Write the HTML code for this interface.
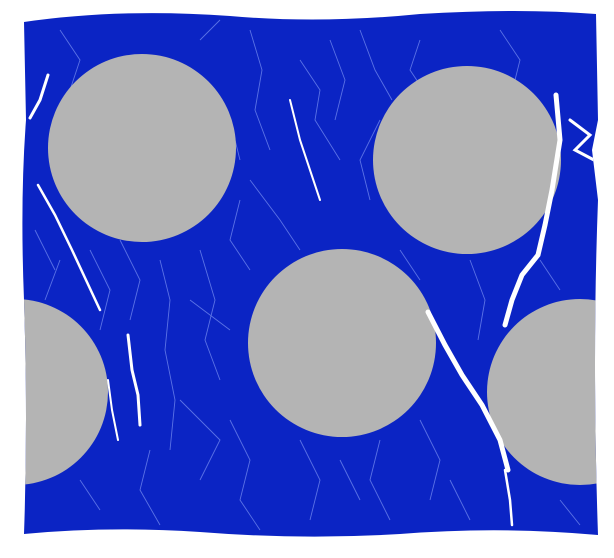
<!DOCTYPE html>
<html>
<head>
<meta charset="utf-8">
<style>
  html,body{margin:0;padding:0;background:#fff;}
  svg{display:block;}
</style>
</head>
<body>
<svg id="scene" width="614" height="558" viewBox="0 0 614 558" xmlns="http://www.w3.org/2000/svg">
  <defs>
    <clipPath id="body-clip">
      <path d="M24,22 Q120,8 230,16 Q320,24 420,14 Q520,8 596,14 L598,120 L592,150 L598,200 Q592,360 598,535 Q500,526 400,534 Q300,540 200,532 Q110,526 24,534 Q28,420 24,300 Q20,200 26,120 Z"/>
    </clipPath>
  </defs>
  <path fill="#0b24c4" d="M24,22 Q120,8 230,16 Q320,24 420,14 Q520,8 596,14 L598,120 L592,150 L598,200 Q592,360 598,535 Q500,526 400,534 Q300,540 200,532 Q110,526 24,534 Q28,420 24,300 Q20,200 26,120 Z"/>
  <g id="fine-cracks" clip-path="url(#body-clip)" stroke="#6f86ee" stroke-width="0.9" fill="none" opacity="0.8"></g>
  <g id="inclusions" clip-path="url(#body-clip)"></g>
  <g clip-path="url(#body-clip)" stroke="#ffffff" fill="none" stroke-linecap="round">
    <path stroke-width="5" d="M428,312 L445,345 L462,375 L482,405 L500,440 L508,470"/>
    <path stroke-width="5" d="M556,95 L560,140 L552,190 L545,225 L538,255 L522,275 L512,300 L505,325"/>
    <path stroke-width="3" d="M570,120 L590,135 L575,150 L594,160"/>
    <path stroke-width="2.5" d="M38,185 L55,215 L72,250 L86,280 L100,310"/>
    <path stroke-width="3" d="M128,335 L132,370 L138,395 L140,425"/>
    <path stroke-width="3" d="M48,75 L40,100 L30,118"/>
    <path stroke-width="2" d="M290,100 L300,140 L310,170 L320,200"/>
    <path stroke-width="2.5" d="M505,470 L510,500 L512,525"/>
    <path stroke-width="2" d="M108,380 L112,410 L118,440"/>
  </g>
</svg>
<script>
const circleCx = [142, 467, 342, 15, 580];
const circleCy = [148, 160, 343, 392, 392];
const circleR = [94, 94, 94, 93, 93];
const NS = 'http://www.w3.org/2000/svg';
const inc = document.getElementById('inclusions');
for (let i = 0; i < circleCx.length; i++) {
  const c = document.createElementNS(NS, 'circle');
  c.setAttribute('cx', circleCx[i]);
  c.setAttribute('cy', circleCy[i]);
  c.setAttribute('r', circleR[i]);
  c.setAttribute('fill', '#b4b4b4');
  
  
  inc.appendChild(c);
}
// faint crack network (fixed polylines)
const fineCracks = [
  "M60,30 L80,60 L70,90","M250,30 L262,70 L255,110 L270,150","M330,40 L345,80 L335,120","M360,30 L375,70 L392,100",
  "M240,200 L230,240 L250,270","M200,250 L215,300 L205,340 L220,380","M160,260 L170,300 L165,350 L175,400 L170,450",
  "M90,250 L110,290 L100,330","M230,420 L250,460 L240,500 L260,530","M300,440 L320,480 L310,520","M380,440 L370,480 L390,520",
  "M420,420 L440,460 L430,500","M150,450 L140,490 L160,525","M80,480 L100,510","M540,260 L560,290","M470,260 L485,300 L478,340",
  "M200,40 L220,20","M500,30 L520,60 L515,80","M420,40 L410,70 L430,100","M250,180 L280,220 L300,250","M400,250 L420,280",
  "M60,260 L45,300","M190,300 L230,330","M180,400 L220,440 L200,480","M340,460 L360,500","M450,480 L470,520","M560,500 L580,525",
  "M300,60 L320,90 L315,120 L340,160","M380,120 L360,160 L370,200","M230,120 L240,160","M120,240 L140,280 L130,320","M35,230 L55,270"
];
const fc = document.getElementById('fine-cracks');
fineCracks.forEach(d => {
  const p = document.createElementNS(NS, 'path');
  p.setAttribute('d', d);
  
  
  fc.appendChild(p);
});
</script>
</body>
</html>
